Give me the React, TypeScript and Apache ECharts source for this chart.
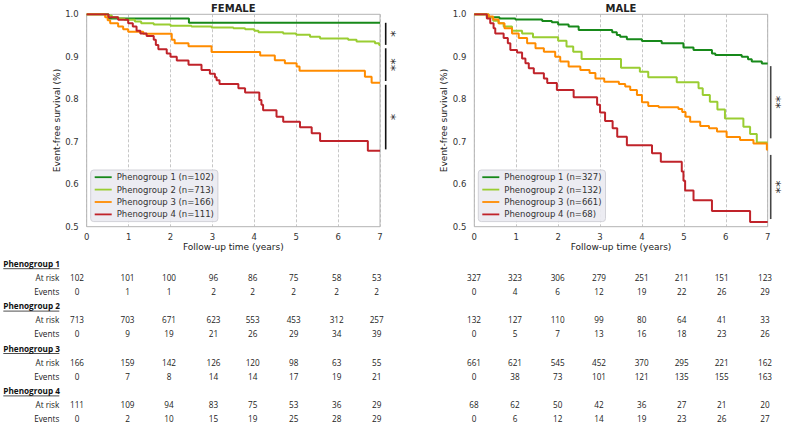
import React, { useEffect, useRef } from "react";
import * as echarts from "echarts";

const groupNames = ["Phenogroup 1", "Phenogroup 2", "Phenogroup 3", "Phenogroup 4"];
const groupColors = ["#17891a", "#9acd32", "#ff8c00", "#c0232a"];
const femaleN = [102, 713, 166, 111];
const maleN = [327, 132, 661, 68];

// Kaplan-Meier steps [time (years), survival after the step]
const femaleP1 = [[0, 1], [0.52, 0.99], [2.44, 0.98], [7, 0.98]];
const femaleP2 = [[0, 1], [0.5, 0.997], [0.6, 0.993], [0.75, 0.99], [0.9, 0.987], [1.15, 0.983], [1.3, 0.979], [1.6, 0.976], [2.0, 0.973], [2.5, 0.971], [2.98, 0.969], [3.5, 0.967], [3.78, 0.965], [4.0, 0.961], [4.1, 0.958], [4.69, 0.955], [5.0, 0.952], [5.33, 0.947], [5.57, 0.943], [6.24, 0.94], [6.44, 0.936], [6.88, 0.932], [6.98, 0.928], [7, 0.928]];
const femaleP3 = [[0, 1], [0.44, 0.993], [0.5, 0.986], [0.56, 0.979], [0.75, 0.971], [0.87, 0.965], [0.99, 0.959], [1.35, 0.954], [2.03, 0.94], [2.1, 0.932], [2.43, 0.925], [2.98, 0.911], [4.14, 0.903], [4.49, 0.892], [4.73, 0.885], [5.01, 0.877], [5.08, 0.867], [6.64, 0.853], [6.8, 0.839], [7, 0.839]];
const femaleP4 = [[0, 1], [0.52, 0.993], [0.75, 0.987], [0.99, 0.979], [1.1, 0.971], [1.19, 0.961], [1.28, 0.955], [1.43, 0.949], [1.6, 0.94], [1.65, 0.928], [1.71, 0.918], [1.91, 0.908], [2.0, 0.9], [2.15, 0.891], [2.43, 0.881], [2.74, 0.869], [2.94, 0.86], [3.06, 0.852], [3.1, 0.845], [3.17, 0.836], [3.62, 0.826], [3.78, 0.816], [4.12, 0.798], [4.17, 0.787], [4.21, 0.774], [4.53, 0.759], [4.69, 0.747], [5.09, 0.734], [5.37, 0.72], [5.57, 0.702], [6.71, 0.679], [7, 0.679]];

const maleP1 = [[0, 1], [0.3, 0.993], [0.6, 0.99], [0.98, 0.988], [1.62, 0.984], [1.85, 0.981], [2.0, 0.976], [2.25, 0.971], [2.49, 0.963], [3.29, 0.958], [3.4, 0.951], [3.48, 0.947], [3.64, 0.941], [4.0, 0.937], [4.47, 0.932], [4.99, 0.922], [5.23, 0.916], [5.67, 0.908], [5.75, 0.904], [6.38, 0.9], [6.53, 0.894], [6.62, 0.889], [6.86, 0.884], [7, 0.884]];
const maleP2 = [[0, 1], [0.34, 0.993], [0.45, 0.985], [0.58, 0.979], [0.7, 0.971], [0.9, 0.961], [1.14, 0.955], [1.4, 0.946], [2.0, 0.938], [2.2, 0.924], [2.36, 0.912], [2.56, 0.895], [3.5, 0.874], [3.95, 0.865], [4.15, 0.852], [4.83, 0.84], [5.35, 0.826], [5.45, 0.81], [5.62, 0.794], [5.8, 0.776], [5.98, 0.755], [6.42, 0.735], [6.58, 0.718], [6.74, 0.698], [7, 0.698]];
const maleP3 = [[0, 1], [0.34, 0.995], [0.45, 0.988], [0.58, 0.979], [0.72, 0.967], [0.9, 0.955], [1.06, 0.944], [1.26, 0.932], [1.46, 0.92], [1.66, 0.912], [1.93, 0.9], [2.05, 0.889], [2.25, 0.877], [2.53, 0.869], [2.75, 0.862], [2.89, 0.849], [3.1, 0.841], [3.45, 0.836], [3.6, 0.83], [3.72, 0.822], [3.88, 0.81], [4.0, 0.793], [4.15, 0.784], [4.4, 0.781], [4.87, 0.777], [4.96, 0.77], [5.04, 0.759], [5.15, 0.747], [5.39, 0.737], [5.6, 0.732], [5.79, 0.724], [6.02, 0.711], [6.34, 0.704], [6.66, 0.696], [6.98, 0.681], [7, 0.681]];
const maleP4 = [[0, 1], [0.3, 0.99], [0.38, 0.979], [0.46, 0.967], [0.5, 0.955], [0.7, 0.944], [0.8, 0.932], [0.86, 0.916], [1.02, 0.91], [1.14, 0.896], [1.22, 0.885], [1.3, 0.873], [1.42, 0.861], [1.66, 0.849], [1.74, 0.838], [1.97, 0.822], [2.37, 0.805], [2.93, 0.787], [3.0, 0.769], [3.12, 0.749], [3.3, 0.732], [3.41, 0.712], [3.64, 0.692], [4.24, 0.673], [4.45, 0.653], [4.95, 0.63], [4.99, 0.608], [5.03, 0.585], [5.23, 0.562], [5.67, 0.537], [6.58, 0.511], [7, 0.511]];

const femaleCurves = [femaleP1, femaleP2, femaleP3, femaleP4];
const maleCurves = [maleP1, maleP2, maleP3, maleP4];

// significance brackets [from, to, label]
const femaleBrackets: [number, number, string][] = [[0.98, 0.928, "*"], [0.92, 0.843, "**"], [0.834, 0.682, "*"]];
const maleBrackets: [number, number, string][] = [[0.878, 0.708, "**"], [0.669, 0.518, "**"]];

// numbers at risk / cumulative events at years 0..7
const femaleAtRisk = [[102, 101, 100, 96, 86, 75, 58, 53], [713, 703, 671, 623, 553, 453, 312, 257], [166, 159, 142, 126, 120, 98, 63, 55], [111, 109, 94, 83, 75, 53, 36, 29]];
const femaleEvents = [[0, 1, 1, 2, 2, 2, 2, 2], [0, 9, 19, 21, 26, 29, 34, 39], [0, 7, 8, 14, 14, 17, 19, 21], [0, 2, 10, 15, 19, 25, 28, 29]];
const maleAtRisk = [[327, 323, 306, 279, 251, 211, 151, 123], [132, 127, 110, 99, 80, 64, 41, 33], [661, 621, 545, 452, 370, 295, 221, 162], [68, 62, 50, 42, 36, 27, 21, 20]];
const maleEvents = [[0, 4, 6, 12, 19, 22, 26, 29], [0, 5, 7, 13, 16, 18, 23, 26], [0, 38, 73, 101, 121, 135, 155, 163], [0, 6, 12, 14, 19, 23, 26, 27]];

const W = 787;
const H = 428;
const FONT = "DejaVu Sans";
const TFONT = "Open Sans";
const femaleCols = [77, 127.5, 169, 213.5, 252.7, 293.7, 336.7, 376.7];
const maleCols = [474, 515, 557.7, 599, 641.7, 681.7, 721.7, 765];

export default function App() {
  const ref = useRef<HTMLDivElement>(null);
  useEffect(() => {
    if (!ref.current) return;
    const chart = echarts.init(ref.current, undefined, { renderer: "svg", width: W, height: H });

    const grids = [
      { left: 86.7, top: 14.3, width: 293.3, height: 212.4 },
      { left: 474.3, top: 14.3, width: 293.4, height: 212.4 },
    ].map((g) => ({ ...g, show: true, borderColor: "#b3b3b3", borderWidth: 1, backgroundColor: "#fff" }));

    const mkX = (i: number) => ({
      gridIndex: i, type: "value", min: 0, max: 7, interval: 1,
      axisLine: { show: false }, axisTick: { show: false },
      splitLine: { show: true, lineStyle: { color: "#b8b8b8", type: [3, 2], width: 0.8 } },
      axisLabel: { fontSize: 8.5, color: "#333", margin: 6, fontFamily: FONT },
      name: "Follow-up time (years)", nameLocation: "middle", nameGap: 16,
      nameTextStyle: { fontSize: 9, color: "#222", fontFamily: FONT },
    });
    const mkY = (i: number) => ({
      gridIndex: i, type: "value", min: 0.5, max: 1.0, interval: 0.1,
      axisLine: { show: false }, axisTick: { show: false }, splitLine: { show: false },
      axisLabel: { fontSize: 8.5, color: "#333", margin: 8, fontFamily: FONT, formatter: (v: number) => v.toFixed(1) },
      name: "Event-free survival (%)", nameLocation: "middle", nameGap: 23,
      nameTextStyle: { fontSize: 9, color: "#222", fontFamily: FONT },
    });

    const series: any[] = [];
    const legendF: string[] = [];
    const legendM: string[] = [];
    femaleCurves.forEach((d, k) => {
      const name = `${groupNames[k]} (n=${femaleN[k]})`;
      legendF.push(name);
      series.push({ name, type: "line", xAxisIndex: 0, yAxisIndex: 0, step: "end", showSymbol: false, symbol: "none", data: d, lineStyle: { width: 2, color: groupColors[k] }, itemStyle: { color: groupColors[k] }, z: 3 });
    });
    maleCurves.forEach((d, k) => {
      const name = `${groupNames[k]} (n=${maleN[k]})`;
      legendM.push(name);
      series.push({ name, type: "line", xAxisIndex: 1, yAxisIndex: 1, step: "end", showSymbol: false, symbol: "none", data: d, lineStyle: { width: 2, color: groupColors[k] }, itemStyle: { color: groupColors[k] }, z: 3 });
    });

    const mkLegend = (data: string[], left: number) => ({
      data, left, top: 170, orient: "vertical", icon: "rect", itemWidth: 17, itemHeight: 1.8, itemGap: 0,
      padding: [1, 4, 1, 4], backgroundColor: "rgba(234,234,241,0.92)", borderColor: "#d2d2d8", borderWidth: 1, borderRadius: 3,
      textStyle: { fontSize: 8.5, color: "#333", fontFamily: FONT, lineHeight: 12.4 },
      selectedMode: false,
    });

    chart.setOption({
      animation: false,
      backgroundColor: "#fff",
      grid: grids,
      xAxis: [mkX(0), mkX(1)],
      yAxis: [mkY(0), mkY(1)],
      legend: [mkLegend(legendF, 90.7), mkLegend(legendM, 478.3)],
      series,
    });

    const g: any[] = [];
    g.push({ type: "text", x: 233.3, y: 8, style: { text: "FEMALE", fontSize: 10, fontWeight: "bold", fontFamily: FONT, fill: "#222", align: "center", verticalAlign: "middle" } });
    g.push({ type: "text", x: 621, y: 8, style: { text: "MALE", fontSize: 10, fontWeight: "bold", fontFamily: FONT, fill: "#222", align: "center", verticalAlign: "middle" } });

    const addBrackets = (br: [number, number, string][], gi: number, dx: number, color: string) => {
      br.forEach(([a, b, lab]) => {
        const p1 = chart.convertToPixel({ gridIndex: gi } as any, [7, a]) as number[];
        const p2 = chart.convertToPixel({ gridIndex: gi } as any, [7, b]) as number[];
        const x = p1[0] + dx;
        g.push({ type: "line", shape: { x1: x, y1: p1[1], x2: x, y2: p2[1] }, style: { stroke: color, lineWidth: 1.6 } });
        g.push({ type: "text", x: x + 5.5, y: (p1[1] + p2[1]) / 2, rotation: -Math.PI / 2, style: { text: lab, fontSize: 13, fontFamily: FONT, fill: "#222", align: "center", verticalAlign: "middle" } });
      });
    };
    addBrackets(femaleBrackets, 0, 5.7, "#111");
    addBrackets(maleBrackets, 1, 3, "#444");

    const tstyle = (text: string, extra: any = {}) => ({ text, fontSize: 8.2, fontFamily: TFONT, fill: "#222", verticalAlign: "middle", ...extra });
    for (let k = 0; k < 4; k++) {
      const yh = 263.2 + k * 42.4;
      g.push({ type: "text", x: 3.3, y: yh, style: tstyle(groupNames[k], { fontWeight: "bold", align: "left", fill: "#111" }) });
      g.push({ type: "line", shape: { x1: 3.3, y1: yh + 5.5, x2: 59.3, y2: yh + 5.5 }, style: { stroke: "#222", lineWidth: 0.8 } });
      g.push({ type: "text", x: 59.3, y: yh + 14, style: tstyle("At risk", { align: "right" }) });
      g.push({ type: "text", x: 59.3, y: yh + 28, style: tstyle("Events", { align: "right" }) });
      for (let c = 0; c < 8; c++) {
        g.push({ type: "text", x: femaleCols[c], y: yh + 14, style: tstyle(String(femaleAtRisk[k][c]), { align: "center" }) });
        g.push({ type: "text", x: femaleCols[c], y: yh + 28, style: tstyle(String(femaleEvents[k][c]), { align: "center" }) });
        g.push({ type: "text", x: maleCols[c], y: yh + 14, style: tstyle(String(maleAtRisk[k][c]), { align: "center" }) });
        g.push({ type: "text", x: maleCols[c], y: yh + 28, style: tstyle(String(maleEvents[k][c]), { align: "center" }) });
      }
    }
    chart.setOption({ graphic: g });

    return () => chart.dispose();
  }, []);
  return <div ref={ref} style={{ position: "fixed", left: 0, top: 0, width: W, height: H }} />;
}
